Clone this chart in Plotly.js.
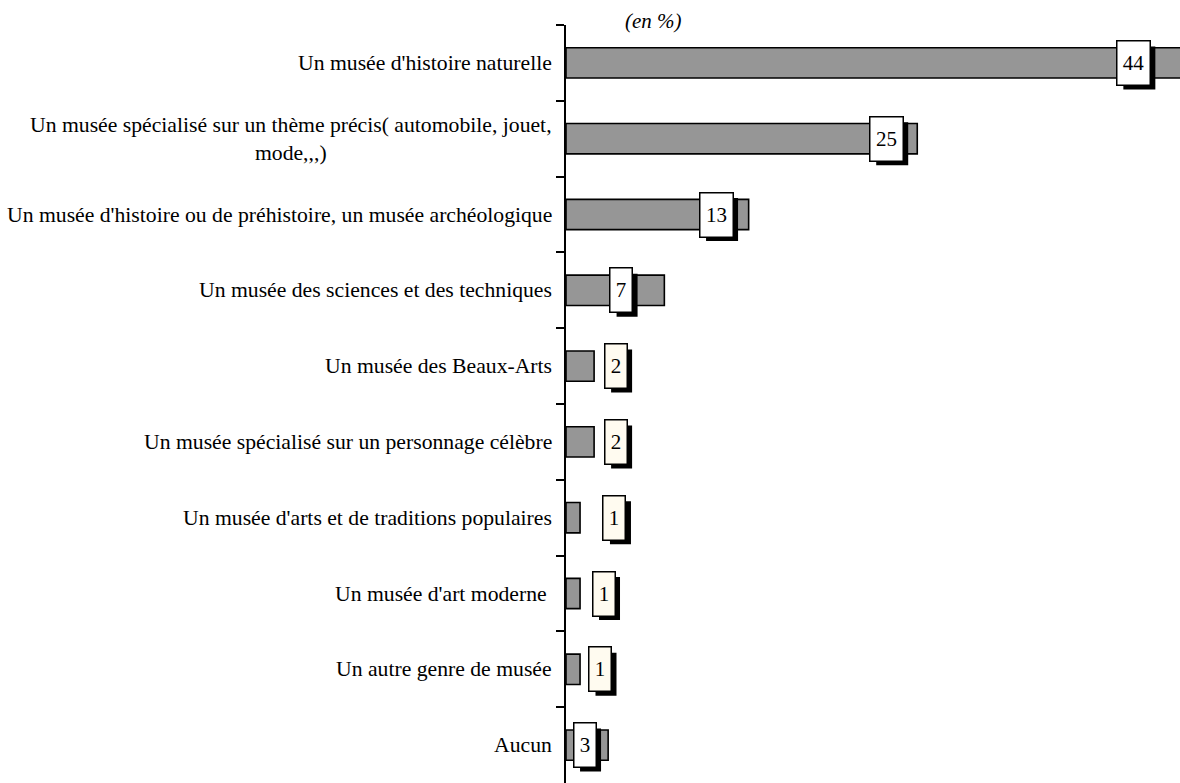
<!DOCTYPE html>
<html><head><meta charset="utf-8">
<script src="https://cdn.plot.ly/plotly-3.0.1.min.js"></script>
<style>html,body{margin:0;padding:0;background:#fff;}#chart{width:1180px;height:783px;}</style>
</head><body><div id="chart"></div>
<script>
const categories = [
  "Un musée d'histoire naturelle",
  "Un musée spécialisé sur un thème précis( automobile, jouet,<br>mode,,,)",
  "Un musée d'histoire ou de préhistoire, un musée archéologique",
  "Un musée des sciences et des techniques",
  "Un musée des Beaux-Arts",
  "Un musée spécialisé sur un personnage célèbre",
  "Un musée d'arts et de traditions populaires",
  "Un musée d'art moderne ",
  "Un autre genre de musée",
  "Aucun"
];
const values = [44, 25, 13, 7, 2, 2, 1, 1, 1, 3];
const unitLabel = "(en %)";

// label box placement (in axis units) and fill, as drawn in the original
const labelX = [40.38, 22.79, 10.68, 3.92, 3.53, 3.53, 3.45, 2.67, 2.42, 1.32];
const labelFill = ["#ffffff","#ffffff","#ffffff","#ffffff","#fffbf0","#fffbf0","#fffbf0","#fffbf0","#fffbf0","#ffffff"];

const serif = "Liberation Serif, Times New Roman, serif";
const annotations = [];
const shapes = [];
categories.forEach((c, i) => {
  annotations.push({
    xref: 'paper', yref: 'y', x: 0, y: c, xanchor: 'right', yanchor: 'middle',
    xshift: -12, text: c, showarrow: false, align: 'center',
    font: {family: serif, size: 21.7, color: '#000'}
  });
});
values.forEach((v, i) => {
  const txt = String(v);
  const w = txt.length > 1 ? 32 : 21;
  const h = 43;
  shapes.push({
    type: 'rect', xref: 'x', yref: 'y', layer: 'above',
    xsizemode: 'pixel', ysizemode: 'pixel',
    xanchor: labelX[i], yanchor: i,
    x0: -w / 2 + 6, x1: w / 2 + 6, y0: -h / 2 - 5, y1: h / 2 - 5,
    fillcolor: '#000', line: {width: 0}
  });
  annotations.push({
    xref: 'x', yref: 'y', x: labelX[i], y: categories[i], xanchor: 'center', yanchor: 'middle',
    text: txt, showarrow: false, width: w, height: h,
    bgcolor: labelFill[i], bordercolor: '#000', borderwidth: 1.5, borderpad: 0,
    font: {family: serif, size: 21, color: '#000'}
  });
});
annotations.push({
  xref: 'paper', yref: 'paper', x: 0.143, y: 1.005, xanchor: 'center', yanchor: 'middle',
  text: '<i>' + unitLabel + '</i>', showarrow: false,
  font: {family: serif, size: 21, color: '#000'}
});

const trace = {
  type: 'bar', orientation: 'h', x: values, y: categories,
  marker: {color: '#969696', line: {color: '#000', width: 1.6}},
  hoverinfo: 'none', cliponaxis: true
};

const layout = {
  width: 1180, height: 783,
  margin: {l: 566, r: 0, t: 25, b: 0, pad: 0},
  paper_bgcolor: '#fff', plot_bgcolor: '#fff',
  showlegend: false,
  bargap: 0.6,
  xaxis: {range: [0, 43.7], visible: false, fixedrange: true},
  yaxis: {
    type: 'category', autorange: 'reversed', showticklabels: false,
    showline: true, linecolor: '#000', linewidth: 2,
    ticks: 'outside', ticklen: 8, tickwidth: 2, tickcolor: '#000',
    tickson: 'boundaries', showgrid: false, zeroline: false, fixedrange: true
  },
  shapes: shapes,
  annotations: annotations
};

Plotly.newPlot('chart', [trace], layout, {displayModeBar: false, staticPlot: true});
</script>
</body></html>
